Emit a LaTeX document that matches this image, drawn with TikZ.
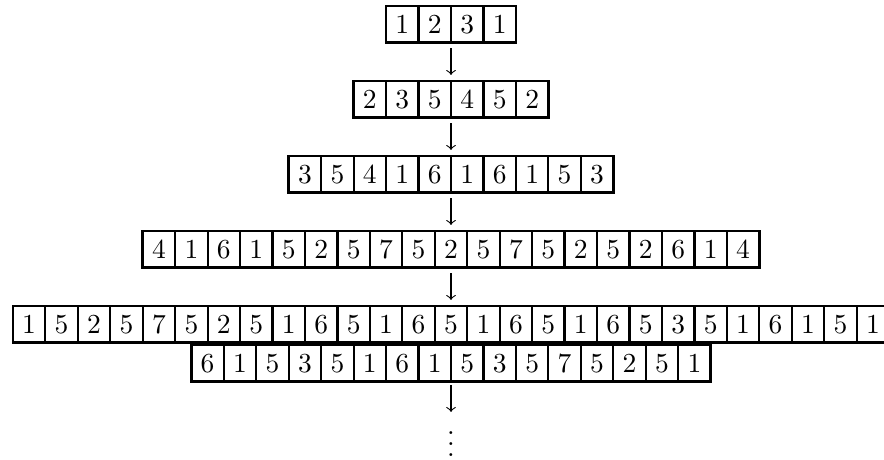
\documentclass[tikz,border=0pt]{standalone}
\usepackage{amsmath}
\usepackage{tikz}
\usetikzlibrary{positioning}

\newcommand{\digitrow}[1]{\foreach \d in {#1}{\fbox{$\d$}}}

\begin{document}
\begin{tikzpicture}[x=0.3636pt, y=0.3636pt,
    cellrow/.style={draw, line width=1pt, inner sep=0pt, outer sep=0pt, anchor=north},
    step arrow/.style={->, shorten <=2.2pt, shorten >=2.2pt}]
  \useasboundingbox (0,0) rectangle (884,-460);
  % rows of the sequence
  \node[cellrow] (r1) at (451,-6)   {\digitrow{1,2,3,1}};
  \node[cellrow] (r2) at (451,-81)  {\digitrow{2,3,5,4,5,2}};
  \node[cellrow] (r3) at (451,-156) {\digitrow{3,5,4,1,6,1,6,1,5,3}};
  \node[cellrow] (r4) at (451,-231) {\digitrow{4,1,6,1,5,2,5,7,5,2,5,7,5,2,5,2,6,1,4}};
  \node[cellrow] (r5) at (451,-306) {\digitrow{1,5,2,5,7,5,2,5,1,6,5,1,6,5,1,6,5,1,6,5,3,5,1,6,1,5,1}};
  % wrapped part of the fifth row
  \node[cellrow] (r6) at (451,-345) {\digitrow{6,1,5,3,5,1,6,1,5,3,5,7,5,2,5,1}};
  \node[inner sep=0pt, outer sep=0pt, anchor=north] (dots) at (451,-415.5) {$\vdots$};

  % arrows
  \draw[step arrow] (r1) -- (r2);
  \draw[step arrow] (r2) -- (r3);
  \draw[step arrow] (r3) -- (r4);
  \draw[step arrow] (r4) -- (r5);
  \draw[->, shorten <=1.3pt, shorten >=1.3pt] (r6) -- (dots);
\end{tikzpicture}
\end{document}
